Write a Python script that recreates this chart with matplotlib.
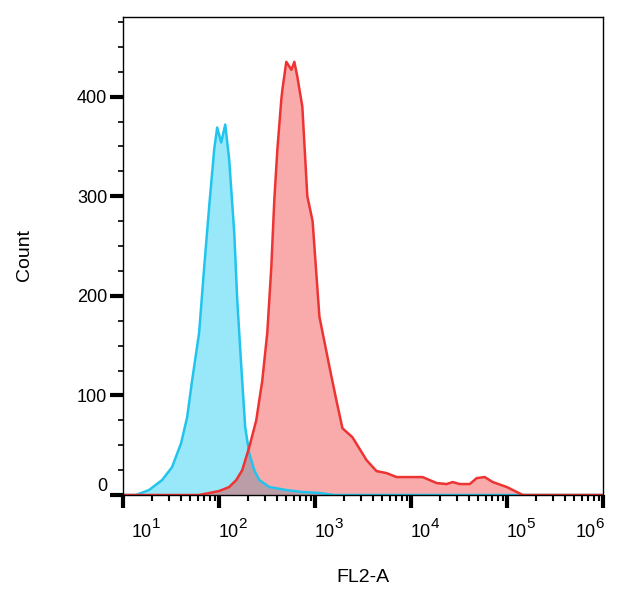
import numpy as np
import matplotlib
matplotlib.use("Agg")
import matplotlib.pyplot as plt
from matplotlib.ticker import FixedLocator, NullFormatter
from matplotlib.transforms import blended_transform_factory, ScaledTranslation

plt.rcParams['font.family'] = ['Liberation Sans', 'DejaVu Sans']

# --- data (log10 of FL2-A, counts) ---
blue_log = [1.00, 1.136, 1.271, 1.407, 1.511, 1.605, 1.668, 1.720, 1.793, 1.846, 1.898, 1.950,
            1.981, 2.023, 2.065, 2.106, 2.159, 2.190, 2.232, 2.273, 2.315, 2.367, 2.420,
            2.524, 2.701, 2.868, 3.046, 3.20, 6.00]
blue_cnt = [0, 0, 5, 15, 28, 52, 78, 115, 163, 229, 290, 347,
            369, 354, 372, 337, 263, 196, 129, 68, 42, 25, 15,
            8, 5, 3, 2, 0, 0]

red_log = [1.00, 1.79, 1.898, 2.002, 2.106, 2.180, 2.242, 2.315, 2.388, 2.451, 2.503, 2.545,
           2.576, 2.608, 2.649, 2.660, 2.701, 2.754, 2.785, 2.816, 2.868, 2.920, 2.975,
           3.046, 3.150, 3.223, 3.286, 3.390, 3.537, 3.641, 3.745, 3.850, 4.121, 4.267,
           4.372, 4.434, 4.507, 4.612, 4.685, 4.768, 4.852, 4.998, 5.102, 5.165, 6.00]
red_cnt = [0, 0, 2, 4, 8, 15, 25, 48, 75, 115, 163, 229,
           296, 347, 397, 407, 435, 427, 435, 420, 390, 300, 275,
           179, 129, 95, 67, 58, 35, 24, 22, 18, 18, 12,
           11, 13, 11, 11, 17, 18, 13, 8, 3, 0, 0]

y_ticks = [0, 100, 200, 300, 400]
x_ticks = [1e1, 1e2, 1e3, 1e4, 1e5, 1e6]
x_tick_base = ['10'] * 6
x_tick_exp = ['1', '2', '3', '4', '5', '6']

fig = plt.figure(figsize=(6.21, 6.02), dpi=100)
ax = fig.add_axes([123/621, 1-495/602, 480/621, 478/602])

bx = 10**np.array(blue_log)
rx = 10**np.array(red_log)

ax.fill_between(bx, blue_cnt, 0, color=(0.0, 0.78, 0.95), alpha=0.4, lw=0)
ax.plot(bx, blue_cnt, color='#22C4EE', lw=1.8)
ax.fill_between(rx, red_cnt, 0, color=(0.94, 0.18, 0.18), alpha=0.4, lw=0)
ax.plot(rx, red_cnt, color='#EE3333', lw=1.8)

ax.set_xscale('log')
ax.set_xlim(1e1, 1e6)
ax.set_ylim(0, 480)

for s in ax.spines.values():
    s.set_linewidth(1.0)
    s.set_color('black')

ax.set_yticks(y_ticks)
ylabels = ax.set_yticklabels([str(v) for v in y_ticks], fontsize=13)
ax.yaxis.set_minor_locator(FixedLocator([v for v in np.arange(0, 480, 25) if v % 100 != 0]))
ax.tick_params(axis='y', which='major', length=9.4, width=3, pad=2, colors='black')
ax.tick_params(axis='y', which='minor', length=3.8, width=1.2)
# the "0" label sits slightly above its tick in the reference
ylabels[0].set_va('bottom')

ax.xaxis.set_major_locator(FixedLocator(x_ticks))
minors = [m * 10**d for d in range(1, 6) for m in range(2, 10)]
ax.xaxis.set_minor_locator(FixedLocator(minors))
ax.xaxis.set_major_formatter(NullFormatter())
ax.xaxis.set_minor_formatter(NullFormatter())
ax.tick_params(axis='x', which='major', length=9, width=3)
ax.tick_params(axis='x', which='minor', length=4.5, width=1.5)

trans = blended_transform_factory(ax.transData, ax.transAxes)
base_fs, exp_fs = 13, 11
base_w = 19 / 100   # width of "10" in inches
exp_w = 8 / 100
for i, (xv, b, e) in enumerate(zip(x_ticks, x_tick_base, x_tick_exp)):
    if i == len(x_ticks) - 1:
        x0 = -(base_w + exp_w)
    elif i == 0:
        x0 = 9 / 100
    else:
        x0 = 0.0
    tb = trans + ScaledTranslation(x0, -42 / 100, fig.dpi_scale_trans)
    ax.text(xv, 0, b, transform=tb, ha='left', va='baseline', fontsize=base_fs, clip_on=False)
    te = trans + ScaledTranslation(x0 + base_w + 0.005, -33 / 100, fig.dpi_scale_trans)
    ax.text(xv, 0, e, transform=te, ha='left', va='baseline', fontsize=exp_fs, clip_on=False)

fig.text(363/621, 1-577/602, 'FL2-A', ha='center', va='center', fontsize=14)
fig.text(24/621, 1-255/602, 'Count', ha='center', va='center', rotation=90, fontsize=14)

fig.savefig('out.png', dpi=100)
